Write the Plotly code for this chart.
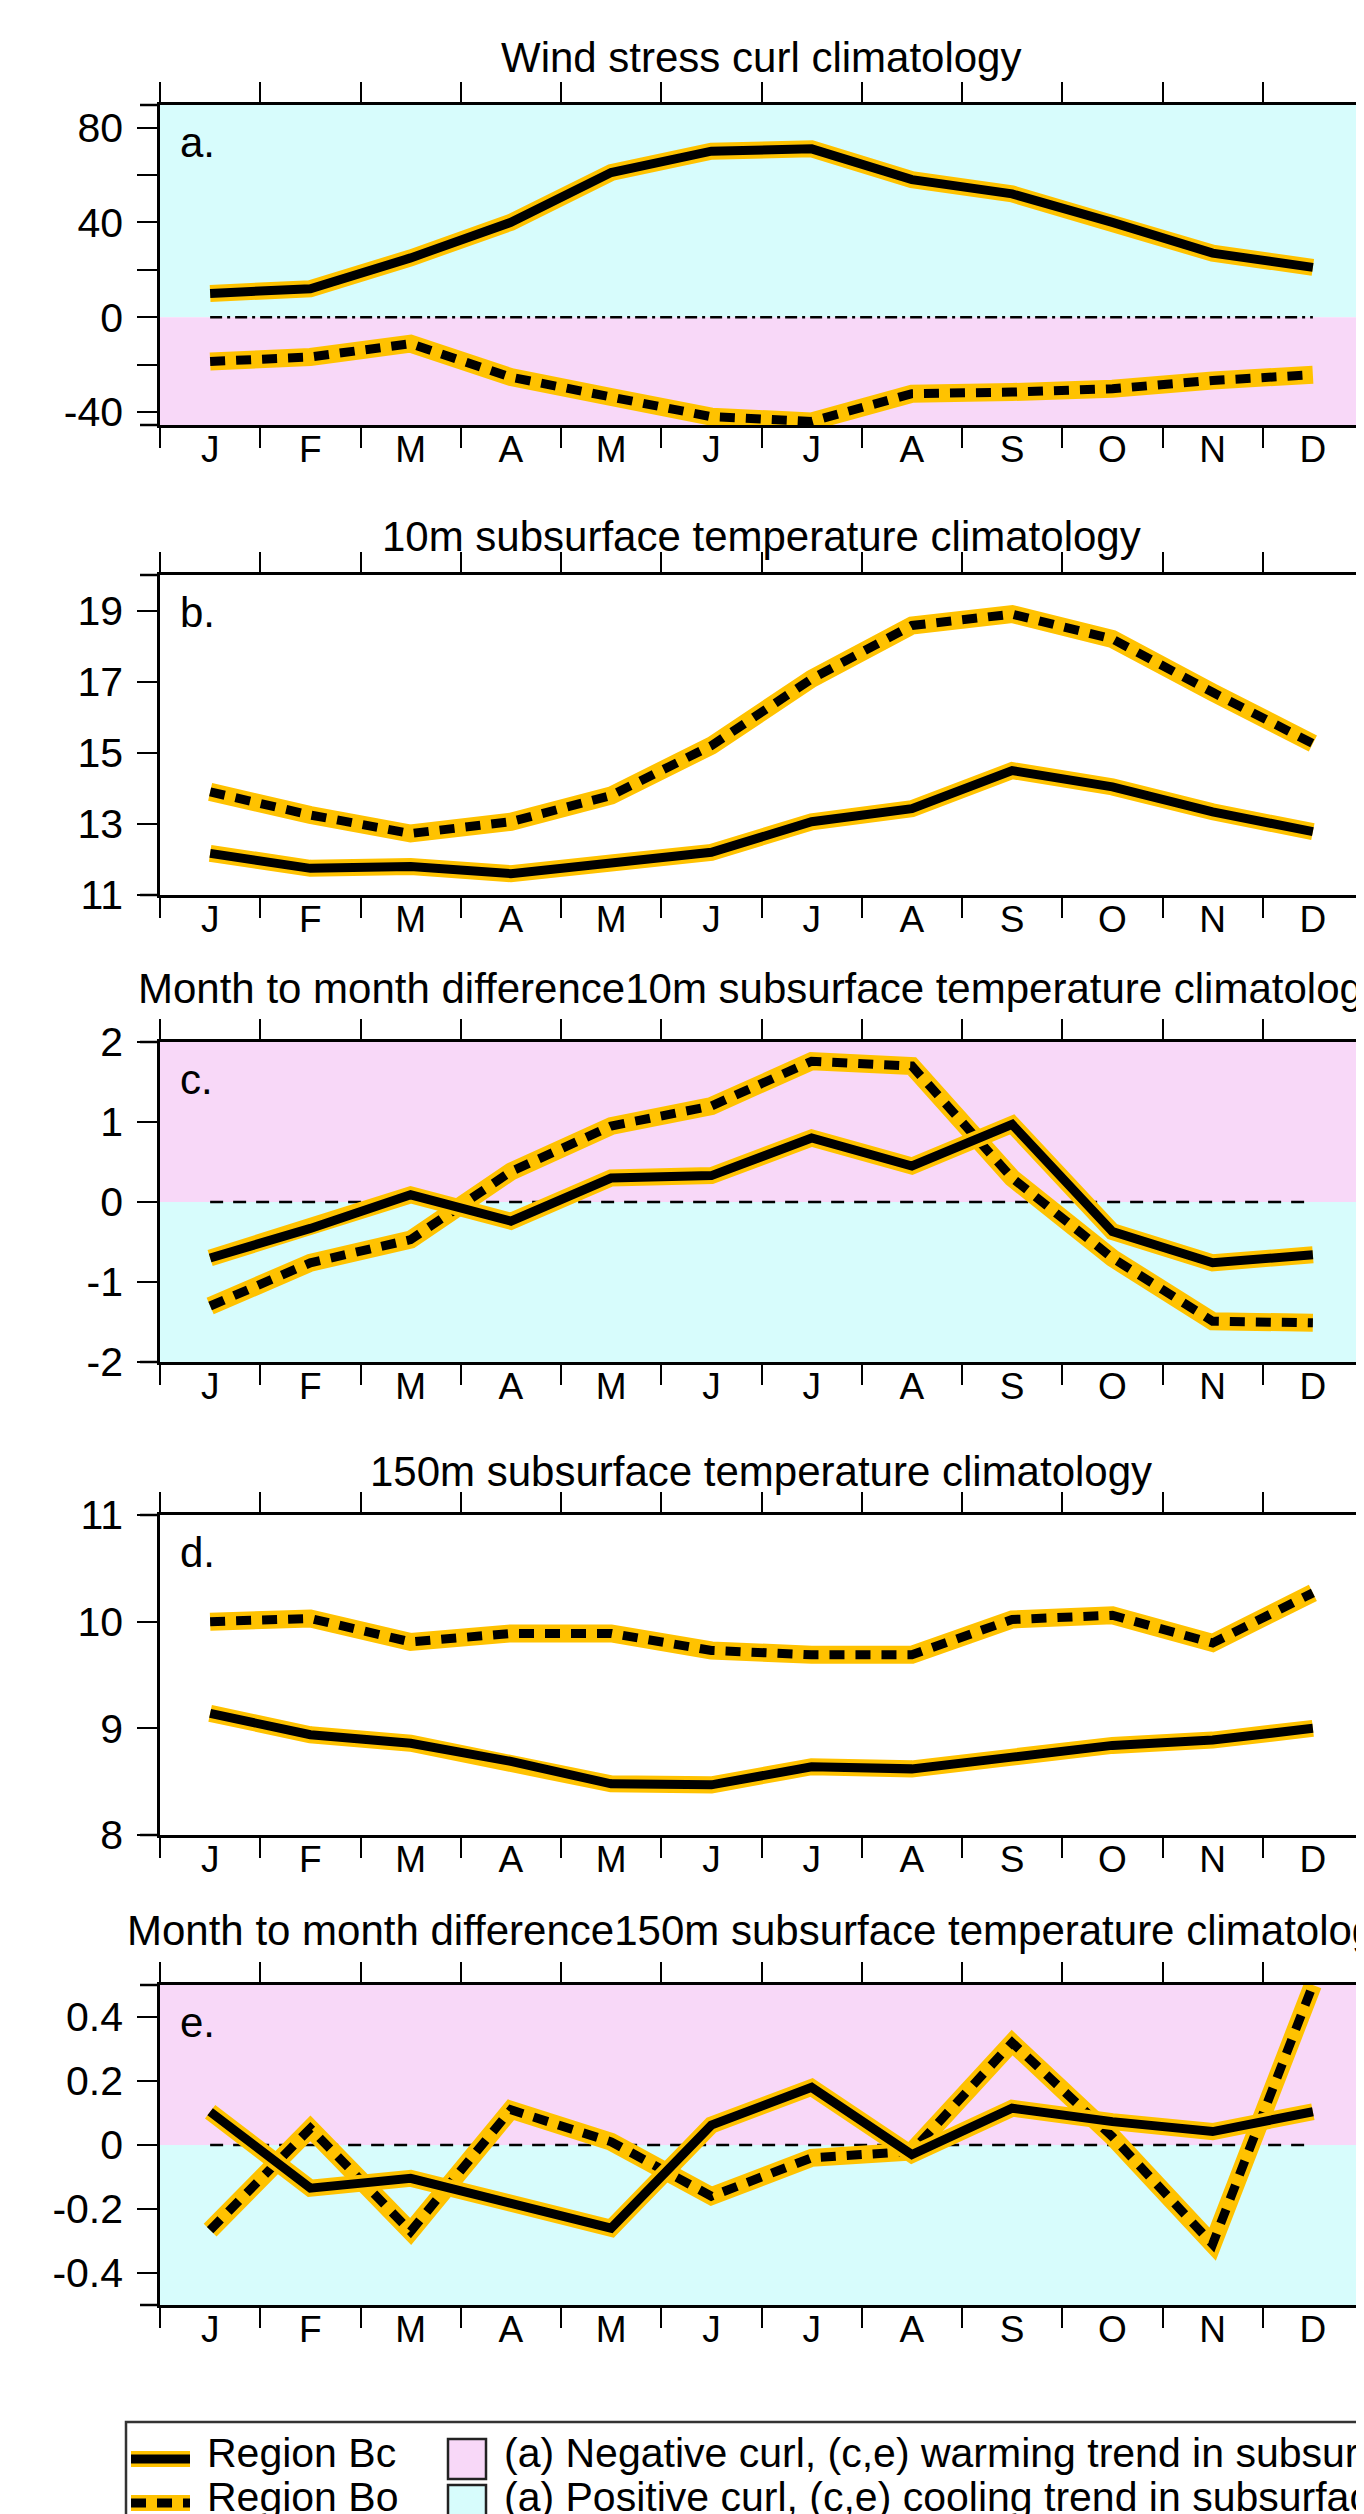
import plotly.graph_objects as go

# ---------------- data ----------------
months = ["J", "F", "M", "A", "M", "J", "J", "A", "S", "O", "N", "D"]
month_idx = list(range(1, 13))
half_ticks = [i + 0.5 for i in range(0, 13)]

curl_bc = [10, 12, 25, 40, 61, 70, 71, 58, 52, 40, 27, 21]
curl_bo = [-18.7, -16.8, -11.2, -25.3, -33.7, -42, -44, -32.3, -31.6, -30.2, -26.7, -24.3]

t10_bc = [12.17, 11.75, 11.8, 11.6, 11.9, 12.2, 13.06, 13.43, 14.5, 14.04, 13.34, 12.78]
t10_bo = [13.9, 13.25, 12.73, 13.06, 13.8, 15.2, 17.08, 18.58, 18.9, 18.2, 16.7, 15.26]

d10_bc = [-0.7, -0.33, 0.09, -0.24, 0.3, 0.33, 0.8, 0.45, 0.97, -0.37, -0.76, -0.66]
d10_bo = [-1.3, -0.76, -0.47, 0.38, 0.95, 1.2, 1.76, 1.7, 0.3, -0.7, -1.49, -1.51]

t150_bc = [9.14, 8.94, 8.86, 8.69, 8.48, 8.47, 8.64, 8.62, 8.73, 8.84, 8.89, 9.0]
t150_bo = [10.0, 10.03, 9.81, 9.89, 9.89, 9.73, 9.69, 9.69, 10.02, 10.06, 9.80, 10.27]

d150_bc = [0.104, -0.135, -0.104, -0.18, -0.26, 0.0625, 0.18, -0.03, 0.115, 0.073, 0.042, 0.104]
d150_bo = [-0.266, 0.052, -0.27, 0.11, 0.01, -0.16, -0.04, -0.02, 0.32, 0.026, -0.31, 0.5]

zero_line = [0] * 12

titles = [
    "Wind stress curl climatology",
    "10m subsurface temperature climatology",
    "Month to month difference10m subsurface temperature climatology",
    "150m subsurface temperature climatology",
    "Month to month difference150m subsurface temperature climatology",
]
panel_letters = ["a.", "b.", "c.", "d.", "e."]
y_ranges = [[-45.5, 89.5], [11, 20], [-2, 2], [8, 11], [-0.5, 0.5]]
y_tickvals = [
    [-40, -20, 0, 20, 40, 60, 80],
    [11, 13, 15, 17, 19],
    [-2, -1, 0, 1, 2],
    [8, 9, 10, 11],
    [-0.4, -0.2, 0, 0.2, 0.4],
]
y_ticktext = [
    ["-40", "", "0", "", "40", "", "80"],
    ["11", "13", "15", "17", "19"],
    ["-2", "-1", "0", "1", "2"],
    ["8", "9", "10", "11"],
    ["-0.4", "-0.2", "0", "0.2", "0.4"],
]
series = [
    (curl_bc, curl_bo),
    (t10_bc, t10_bo),
    (d10_bc, d10_bo),
    (t150_bc, t150_bo),
    (d150_bc, d150_bo),
]
# shading: (upper colour, lower colour) split at zero, or None
shading = [("cyan", "pink"), None, ("pink", "cyan"), None, ("pink", "cyan")]
zero_dash = ["12px,5px,3px,5px", None, "13px,10px", None, "13px,10px"]

# ---------------- layout geometry ----------------
W, H = 1364, 2514
FONT = "Liberation Sans, Arial, Helvetica, sans-serif"
PINK = "#F8D8F8"
CYAN = "#D7FCFC"
ORANGE = "#FFC200"

x_left_px, x_right_px = 152, 1355
panel_px = [(97, 417), (567, 887), (1034, 1354), (1507, 1827), (1977, 2297)]
title_px = [50, 528, 980, 1463, 1922]

xdom = [x_left_px / W, x_right_px / W]

fig = go.Figure()
layout = dict(
    width=W, height=H,
    margin=dict(l=0, r=0, t=0, b=0, autoexpand=False),
    paper_bgcolor="white", plot_bgcolor="white",
    showlegend=False,
    font=dict(family=FONT, color="black", size=38),
)
shapes = []
annotations = []

for i in range(5):
    n = "" if i == 0 else str(i + 1)
    xname, yname = "x" + n, "y" + n
    top, bot = panel_px[i]
    ydom = [1 - bot / H, 1 - top / H]

    layout["xaxis" + n] = dict(
        domain=xdom, range=[0.5, 12.5], anchor=yname, automargin=False,
        showline=True, linecolor="black", linewidth=2.5, mirror="allticks",
        tickmode="array", tickvals=month_idx, ticktext=months,
        ticks="", ticklen=0, ticklabelstandoff=-10,
        minor=dict(tickmode="array", tickvals=half_ticks, ticks="outside",
                   ticklen=20, tickwidth=2, tickcolor="black"),
        showgrid=False, zeroline=False,
        tickfont=dict(family=FONT, size=37, color="black"),
        fixedrange=True,
    )
    layout["yaxis" + n] = dict(
        domain=ydom, range=y_ranges[i], anchor=xname, automargin=False,
        showline=True, linecolor="black", linewidth=2.5, mirror="ticks",
        tickmode="array", tickvals=y_tickvals[i], ticktext=y_ticktext[i],
        ticks="outside", ticklen=20, tickwidth=2, tickcolor="black",
        ticklabelstandoff=6,
        showgrid=False, zeroline=False,
        tickfont=dict(family=FONT, size=41, color="black"),
        fixedrange=True,
    )

    # background shading split at zero
    if shading[i] is not None:
        upper, lower = shading[i]
        cmap = {"pink": PINK, "cyan": CYAN}
        shapes.append(dict(type="rect", layer="below", xref=xname + " domain", yref=yname,
                           x0=0, x1=1, y0=0, y1=y_ranges[i][1],
                           fillcolor=cmap[upper], line=dict(width=0)))
        shapes.append(dict(type="rect", layer="below", xref=xname + " domain", yref=yname,
                           x0=0, x1=1, y0=y_ranges[i][0], y1=0,
                           fillcolor=cmap[lower], line=dict(width=0)))

    # frame lines extending left of the y axis (as in the original)
    for yy in (0, 1):
        shapes.append(dict(type="line", xref=xname + " domain", yref=yname + " domain",
                           x0=-20 / (x_right_px - x_left_px), x1=0, y0=yy, y1=yy,
                           line=dict(color="black", width=2.5)))

    # zero reference line
    if zero_dash[i] is not None:
        fig.add_trace(go.Scatter(x=month_idx, y=zero_line, mode="lines",
                                 line=dict(color="black", width=2.5, dash=zero_dash[i]),
                                 xaxis=xname, yaxis=yname, hoverinfo="skip"))

    bc, bo = series[i]
    # Region Bo (dashed) : orange halo + black dashes
    fig.add_trace(go.Scatter(x=month_idx, y=bo, mode="lines", name="Region Bo",
                             line=dict(color=ORANGE, width=18),
                             xaxis=xname, yaxis=yname))
    fig.add_trace(go.Scatter(x=month_idx, y=bo, mode="lines", name="Region Bo",
                             line=dict(color="black", width=9, dash="15px,11px"),
                             xaxis=xname, yaxis=yname))
    # Region Bc (solid) : orange halo + black line
    fig.add_trace(go.Scatter(x=month_idx, y=bc, mode="lines", name="Region Bc",
                             line=dict(color=ORANGE, width=17),
                             xaxis=xname, yaxis=yname))
    fig.add_trace(go.Scatter(x=month_idx, y=bc, mode="lines", name="Region Bc",
                             line=dict(color="black", width=9),
                             xaxis=xname, yaxis=yname))

    # title
    annotations.append(dict(text=titles[i], xref="paper", yref="paper",
                            x=(xdom[0] + xdom[1]) / 2, y=1 - title_px[i] / H,
                            xanchor="center", yanchor="middle", showarrow=False,
                            font=dict(family=FONT, size=42, color="black")))
    # panel letter
    annotations.append(dict(text=panel_letters[i], xref=xname + " domain", yref=yname + " domain",
                            x=0, y=1, xanchor="left", yanchor="top", xshift=18, yshift=-12,
                            showarrow=False,
                            font=dict(family=FONT, size=42, color="black")))

# ---------------- legend (drawn in a framed box below the panels) ----------------
def px_x(v):
    return v / W

def px_y(v):
    return 1 - v / H

shapes.append(dict(type="rect", xref="paper", yref="paper",
                   x0=px_x(118), x1=px_x(1420), y0=px_y(2560), y1=px_y(2414),
                   line=dict(color="#333333", width=2.5), fillcolor="rgba(0,0,0,0)"))
# line samples
for yc, dash in ((2451, None), (2495, "15px,11px")):
    shapes.append(dict(type="line", xref="paper", yref="paper",
                       x0=px_x(123), x1=px_x(182), y0=px_y(yc), y1=px_y(yc),
                       line=dict(color=ORANGE, width=16)))
    ln = dict(color="black", width=9)
    if dash:
        ln["dash"] = dash
    shapes.append(dict(type="line", xref="paper", yref="paper",
                       x0=px_x(123), x1=px_x(182), y0=px_y(yc), y1=px_y(yc), line=ln))
# colour patches
shapes.append(dict(type="rect", xref="paper", yref="paper",
                   x0=px_x(440), x1=px_x(478), y0=px_y(2471), y1=px_y(2431),
                   fillcolor=PINK, line=dict(color="#222222", width=2.5)))
shapes.append(dict(type="rect", xref="paper", yref="paper",
                   x0=px_x(440), x1=px_x(478), y0=px_y(2518), y1=px_y(2477),
                   fillcolor=CYAN, line=dict(color="#222222", width=2.5)))

legend_texts = [
    ("Region Bc", 197, 2445),
    ("Region Bo", 197, 2489),
    ("(a) Negative curl, (c,e) warming trend in subsurface", 494, 2445),
    ("(a) Positive curl, (c,e) cooling trend in subsurface", 494, 2489),
]
for txt, xx, yy in legend_texts:
    annotations.append(dict(text=txt, xref="paper", yref="paper", x=px_x(xx), y=px_y(yy),
                            xanchor="left", yanchor="middle", showarrow=False,
                            font=dict(family=FONT, size=41, color="black")))

layout["shapes"] = shapes
layout["annotations"] = annotations
fig.update_layout(**layout)

fig.write_html("out.html")
